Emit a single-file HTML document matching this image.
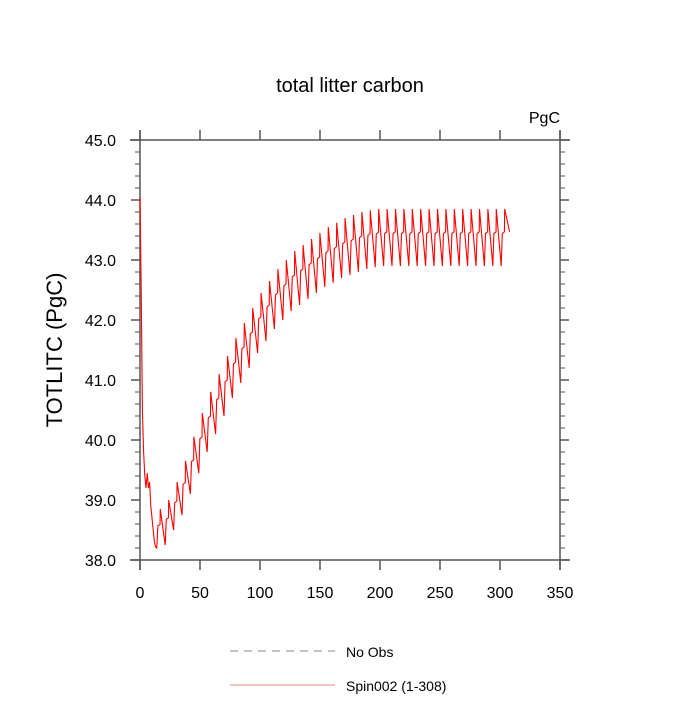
<!DOCTYPE html>
<html><head><meta charset="utf-8"><style>body{margin:0;background:#fff}svg{font-family:"Liberation Sans",sans-serif}</style></head>
<body>
<svg id="c" width="700" height="700">
<text x="350" y="92" text-anchor="middle" font-size="20">total litter carbon</text>
<text x="560" y="123" text-anchor="end" font-size="16">PgC</text>
<text transform="translate(62,350) rotate(-90)" text-anchor="middle" font-size="22">TOTLITC  (PgC)</text>
<g id="ax"></g>
<g id="ser"></g>
<g>
<line x1="230" y1="651" x2="335" y2="651" stroke="#888" stroke-dasharray="8,6"/>
<text x="346" y="657" font-size="14">No Obs</text>
<line x1="230" y1="685" x2="335" y2="685" stroke="#e88"/>
<text x="346" y="691" font-size="14">Spin002 (1-308)</text>
</g>
</svg>
<script>
const xTicks=[0,50,100,150,200,250,300,350];
const yTicks=[38.0,39.0,40.0,41.0,42.0,43.0,44.0,45.0];
const startYears=[0,1,2,3,4,5,6,7,8,9,10,11,12,13];
const startVals=[44.05,42.5,40.5,39.8,39.4,39.2,39.45,39.2,39.3,38.9,38.7,38.5,38.3,38.22];
const cycleTroughs=[38.2,38.25,38.5,38.75,39.1,39.45,39.8,40.1,40.4,40.7,40.95,41.2,41.45,41.65,41.85,42.0,42.15,42.25,42.35,42.45,42.55,42.62,42.7,42.75,42.8,42.85,42.88,42.9,42.9,42.9,42.9,42.9,42.9,42.9,42.9,42.9,42.9,42.9,42.9,42.9,42.9,42.9];
const cyclePeaks=[38.85,39.0,39.3,39.65,40.05,40.45,40.8,41.1,41.4,41.7,41.95,42.2,42.45,42.65,42.85,43.0,43.15,43.25,43.35,43.45,43.55,43.62,43.7,43.75,43.8,43.83,43.85,43.85,43.85,43.85,43.85,43.85,43.85,43.85,43.85,43.85,43.85,43.85,43.85,43.85,43.85,43.85];
const X=v=>140+v*1.2, Y=v=>140+(45-v)*60;
const NS='http://www.w3.org/2000/svg';
const ax=document.getElementById('ax');
function mk(p,tag,at){const e=document.createElementNS(NS,tag);for(const k in at)e.setAttribute(k,at[k]);p.appendChild(e);return e;}
const C='#555';
[[130,140,570,140],[130,560,570,560],[140,130,140,570],[560,130,560,570]].forEach(a=>{
 const l=mk(ax,'line',{x1:a[0],y1:a[1],x2:a[2],y2:a[3],stroke:C,'stroke-width':1.5});
 
 });
xTicks.forEach(v=>{
 mk(ax,'line',{x1:X(v),y1:560,x2:X(v),y2:570,stroke:C,'stroke-width':1.5});
 mk(ax,'line',{x1:X(v),y1:140,x2:X(v),y2:130,stroke:C,'stroke-width':1.5});});
for(let i=0;i<=35;i++){const v=38+i*0.2,maj=i%5==0,l=maj?9:5;
 mk(ax,'line',{x1:140,y1:Y(v),x2:140-l,y2:Y(v),stroke:C,'stroke-width':maj?1.5:1});
 mk(ax,'line',{x1:560,y1:Y(v),x2:560+l,y2:Y(v),stroke:C,'stroke-width':maj?1.5:1});}
xTicks.forEach(v=>{const t=mk(ax,'text',{x:X(v),y:598,'text-anchor':'middle','font-size':16});t.textContent=v;

});
yTicks.forEach(v=>{const t=mk(ax,'text',{x:116,y:Y(v)+6,'text-anchor':'end','font-size':16});t.textContent=v.toFixed(1);

});
const pts=[];
startYears.forEach((y,i)=>pts.push([y,startVals[i]]));
cycleTroughs.forEach((T,k)=>{const P=cyclePeaks[k],t=14+7*k,r=P-T;
 pts.push([t,T]);pts.push([t+0.9,T+0.57*r]);pts.push([t+2.7,T+0.6*r]);pts.push([t+2.9,P]);});
{const k=cycleTroughs.length,T=cycleTroughs[k-1],P=cyclePeaks[k-1];pts.push([308,T+0.6*(P-T)]);}
const pl=mk(document.getElementById('ser'),'polyline',{points:pts.filter(p=>p[0]<=308).map(p=>X(p[0])+','+Y(p[1])).join(' '),fill:'none',stroke:'#f00','stroke-width':1.1});


</script>
</body></html>
